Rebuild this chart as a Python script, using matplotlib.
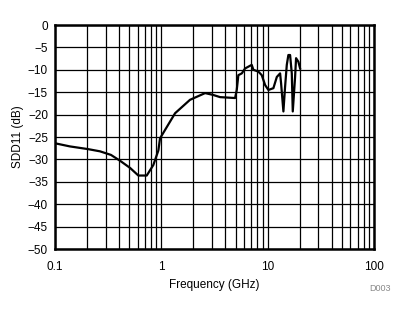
import matplotlib
matplotlib.use("Agg")
import matplotlib.pyplot as plt
import numpy as np
from matplotlib.ticker import LogLocator, NullFormatter, FixedLocator

plt.rcParams['font.family'] = ['Liberation Sans', 'DejaVu Sans']

## 周波数 (GHz) と SDD11 (dB)
freq = [0.1, 0.138, 0.204, 0.265, 0.336, 0.409, 0.508, 0.608, 0.729, 0.841,
        0.938, 0.972, 1.346, 1.86, 2.58, 3.06, 3.57, 4.94, 5.12, 5.30,
        5.71, 6.13, 7.08, 7.34, 8.18, 8.80, 9.46, 10.16, 11.32, 12.19,
        13.09, 13.37, 14.06, 14.58, 15.13, 15.66, 16.25, 16.86, 17.22, 18.11,
        18.50, 19.45, 20.18]
sdd11 = [-26.4, -27.1, -27.7, -28.2, -29.0, -30.3, -31.9, -33.6, -33.6, -31.25,
         -28.0, -25.3, -19.7, -16.7, -15.2, -15.6, -16.1, -16.3, -14.5, -11.2,
         -10.8, -9.7, -8.9, -10.0, -10.4, -11.2, -13.4, -14.5, -14.1, -11.6,
         -10.8, -13.0, -19.3, -13.8, -8.9, -6.7, -6.7, -10.8, -19.3, -11.6,
         -7.4, -8.2, -9.7]

xticks = [0.1, 1, 10, 100]
xtick_labels = ['0.1', '1', '10', '100']
yticks = list(range(-50, 1, 5))

fig = plt.figure(figsize=(4.07, 3.12), dpi=100)
ax = fig.add_axes([55 / 407, 1 - 249 / 312, (374 - 55) / 407, (249 - 25) / 312])

ax.plot(freq, sdd11, color='black', lw=1.6)

ax.set_xscale('log')
ax.set_xlim(0.1, 100)
ax.set_ylim(-50, 0)
ax.set_xticks(xticks)
ax.set_xticklabels(xtick_labels)
ax.xaxis.set_minor_locator(LogLocator(base=10, subs=np.arange(2, 10)))
ax.xaxis.set_minor_formatter(NullFormatter())
ax.yaxis.set_major_locator(FixedLocator(yticks))

ax.grid(True, which='both', axis='x', color='black', lw=0.9)
ax.grid(True, which='major', axis='y', color='black', lw=0.9)
ax.tick_params(which='both', length=0, labelsize=8.5)
ax.tick_params(axis='x', pad=9)
ax.tick_params(axis='y', pad=5)
for s in ax.spines.values():
    s.set_linewidth(1.8)

ax.set_xlabel('Frequency (GHz)', fontsize=8.5, labelpad=4)
ax.set_ylabel('SDD11 (dB)', fontsize=8.5, labelpad=3)
fig.text(380 / 407, 1 - 291 / 312, 'D003', fontsize=6.5, color='#888888', ha='center')

fig.savefig('out.png', dpi=100)
